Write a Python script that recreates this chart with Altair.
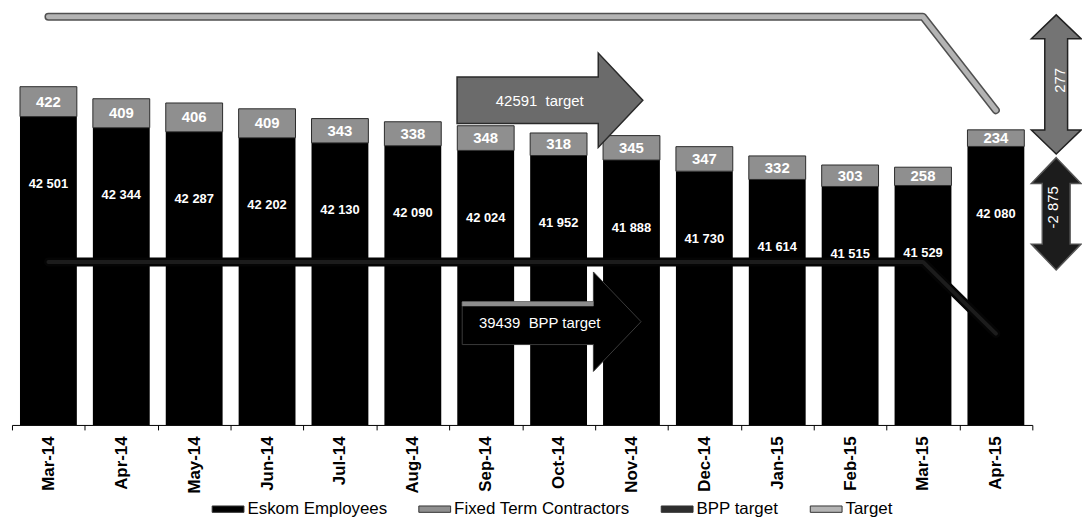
import altair as alt
import pandas as pd

months = ["Mar-14", "Apr-14", "May-14", "Jun-14", "Jul-14", "Aug-14", "Sep-14",
          "Oct-14", "Nov-14", "Dec-14", "Jan-15", "Feb-15", "Mar-15", "Apr-15"]
employees = [42501, 42344, 42287, 42202, 42130, 42090, 42024,
             41952, 41888, 41730, 41614, 41515, 41529, 42080]
contractors = [422, 409, 406, 409, 343, 338, 348, 318, 345, 347, 332, 303, 258, 234]
bpp_target = [40450, 40450, 40450, 40450, 40450, 40450, 40450,
              40450, 40450, 40450, 40450, 40450, 40450, 39439]
target = [43910, 43910, 43910, 43910, 43910, 43910, 43910,
          43910, 43910, 43910, 43910, 43910, 43910, 42591]

series_names = ["Eskom Employees", "Fixed Term Contractors", "BPP target", "Target"]
series_colors = ["#000000", "#8f8f8f", "#2e2e2e", "#b4b4b4"]

ann_keys = ["tgt", "bpp", "gap_up", "gap_down"]
ann_months = ["Oct-14", "Oct-14", "Apr-15", "Apr-15"]
ann_values = [42591, 39439, 42591, 42314]
ann_labels = ["42591\u00a0 target", "39439\u00a0 BPP target", "277", "-2 875"]

df = pd.DataFrame({"month": months, "emp": employees, "con": contractors,
                   "bpp": bpp_target, "target": target})
ann = pd.DataFrame({"key": ann_keys, "month": ann_months, "value": ann_values,
                    "label": ann_labels})

W, H = 1027, 416
Y_MIN, Y_MAX = 38150, 43982
FONT = "Liberation Sans"

yscale = alt.Scale(domain=[Y_MIN, Y_MAX], zero=False, nice=False, clamp=True)

x_enc = alt.X("month:N", sort=months,
              scale=alt.Scale(paddingInner=0, paddingOuter=0),
              axis=alt.Axis(title=None, labelAngle=270, labelFont=FONT,
                            labelFontSize=17, labelFontWeight="bold",
                            labelColor="#000000", tickBand="extent", tickSize=5,
                            tickColor="#000000", domainColor="#000000",
                            labelPadding=6, grid=False))

legend_symbol = "M-1,-0.2H1V0.2H-1Z"
color_enc = alt.Color("series:N",
                      scale=alt.Scale(domain=series_names, range=series_colors),
                      legend=alt.Legend(title=None, orient="none", legendX=201,
                                        legendY=484, direction="horizontal",
                                        columns=4, symbolType=legend_symbol,
                                        symbolSize=1024, labelFont=FONT,
                                        labelFontSize=17, labelColor="#000000",
                                        labelOffset=3, columnPadding=29,
                                        labelLimit=400,
                                        symbolStrokeColor="#333333",
                                        symbolStrokeWidth=1, padding=0))

base = alt.Chart(df)

emp_bars = base.transform_calculate(series="'Eskom Employees'").mark_bar(
    width=alt.RelativeBandSize(0.78)).encode(
    x=x_enc, y=alt.Y("emp:Q", scale=yscale, axis=None), color=color_enc)

con_bars = base.transform_calculate(
    total="datum.emp + datum.con", series="'Fixed Term Contractors'").mark_bar(
    width=alt.RelativeBandSize(0.78), stroke="#2a2a2a", strokeWidth=1).encode(
    x=x_enc, y=alt.Y("total:Q", scale=yscale, axis=None), y2="emp:Q",
    color=color_enc)

def line_layer(field, color, width):
    return base.mark_line(color=color, strokeWidth=width, strokeCap="round",
                          strokeJoin="round").encode(
        x=x_enc, y=alt.Y(f"{field}:Q", scale=yscale, axis=None))

tgt_out = line_layer("target", "#505050", 8)
tgt_in = line_layer("target", "#b4b4b4", 5)
bpp_out = line_layer("bpp", "#050505", 9)
bpp_in = line_layer("bpp", "#1c1c1c", 4)

abase = alt.Chart(ann)

def ann_point(key, path, size, fill, stroke, sw, xo, yo):
    return abase.transform_filter(f"datum.key == '{key}'").mark_point(
        shape=path, size=size, filled=True, fill=fill, stroke=stroke,
        strokeWidth=sw, opacity=1, xOffset=xo, yOffset=yo).encode(
        x=x_enc, y=alt.Y("value:Q", scale=yscale, axis=None))

def ann_text(key, xo, yo, angle=0, size=15, weight="normal"):
    return abase.transform_filter(f"datum.key == '{key}'").mark_text(
        color="white", font=FONT, fontSize=size, fontWeight=weight,
        angle=angle, align="center", baseline="middle",
        xOffset=xo, yOffset=yo).encode(
        x=x_enc, y=alt.Y("value:Q", scale=yscale, axis=None), text="label:N")

arrow_tgt = "M-1,-0.25L0.52,-0.25L0.52,-0.508L1,0L0.52,0.508L0.52,0.25L-1,0.25Z"
arrow_bpp = "M-1,-0.222L0.467,-0.222L0.467,-0.556L1,0L0.467,0.556L0.467,0.256L-1,0.256Z"
arrow_bpp_edge = "M-1,-0.222L0.467,-0.222L0.467,-0.175L-1,-0.175Z"
dbl_up = ("M0,-1L0.357,-0.657L0.164,-0.657L0.164,0.657L0.357,0.657L0,1"
          "L-0.357,0.657L-0.164,0.657L-0.164,-0.657L-0.357,-0.657Z")
dbl_down = ("M0,-1L0.442,-0.54L0.248,-0.54L0.248,0.54L0.442,0.54L0,1"
            "L-0.442,0.54L-0.248,0.54L-0.248,-0.54L-0.442,-0.54Z")

annotations = [
    ann_point("tgt", arrow_tgt, 34969, "#6b6b6b", "#2a2a2a", 1.5, -8.7, -10),
    ann_text("tgt", -19, -9),
    ann_point("bpp", arrow_bpp, 32400, "#000000", "#3a3a3a", 1, -7, -12),
    ann_point("bpp", arrow_bpp_edge, 32400, "#8c8c8c", "#8c8c8c", 0.5, -7, -12),
    ann_text("bpp", -19, -11),
    ann_point("gap_up", dbl_up, 19600, "#747474", "#222222", 1.5, 60.7, -26),
    ann_text("gap_up", 64.7, -30, angle=270),
    ann_point("gap_down", dbl_down, 12769, "#1c1c1c", "#555555", 1.5, 60.7, 84.5),
    ann_text("gap_down", 57.7, 78, angle=270),
]

emp_labels = base.transform_calculate(
    lab="replace(format(datum.emp, ','), ',', ' ')").mark_text(
    color="white", font=FONT, fontSize=13, fontWeight="bold",
    baseline="middle", yOffset=68).encode(
    x=x_enc, y=alt.Y("emp:Q", scale=yscale, axis=None), text="lab:N")

con_labels = base.transform_calculate(mid="datum.emp + datum.con / 2").mark_text(
    color="white", font=FONT, fontSize=15, fontWeight="bold",
    baseline="middle").encode(
    x=x_enc, y=alt.Y("mid:Q", scale=yscale, axis=None), text="con:Q")

chart = alt.layer(
    emp_bars, con_bars, tgt_out, tgt_in, bpp_out, bpp_in,
    *annotations, emp_labels, con_labels
).properties(
    width=W, height=H,
    autosize=alt.AutoSizeParams(type="none"),
    padding={"left": 4, "top": 2, "right": 50, "bottom": 95},
    background="white",
).configure_view(strokeWidth=0)

chart.save("out.html", embed_options={"renderer": "svg", "actions": False})
